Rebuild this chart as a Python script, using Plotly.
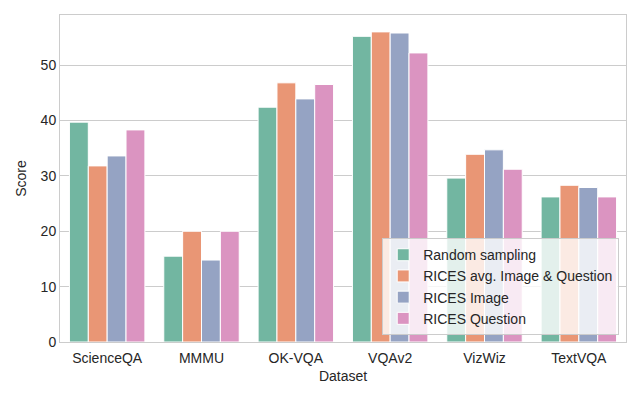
import plotly.graph_objects as go

datasets = ["ScienceQA", "MMMU", "OK-VQA", "VQAv2", "VizWiz", "TextVQA"]
methods = ["Random sampling", "RICES avg. Image & Question", "RICES Image", "RICES Question"]

random_sampling = [39.7, 15.5, 42.4, 55.2, 29.6, 26.2]
rices_avg = [31.8, 20.0, 46.8, 56.0, 33.9, 28.3]
rices_image = [33.6, 14.8, 43.9, 55.8, 34.7, 27.9]
rices_question = [38.3, 20.0, 46.5, 52.2, 31.2, 26.2]

y_ticks = [0, 10, 20, 30, 40, 50]

series = [random_sampling, rices_avg, rices_image, rices_question]
colors = ["#72b6a1", "#e99675", "#95a3c3", "#db94c1"]

fig = go.Figure()
for name, vals, col in zip(methods, series, colors):
    fig.add_trace(go.Bar(
        x=datasets,
        y=vals,
        name=name,
        marker=dict(color=col, line=dict(color="white", width=1)),
    ))

# page body has an 8px margin, so shift everything up/left by 8
fig.update_layout(
    width=640,
    height=400,
    margin=dict(l=52, r=22, t=7, b=66),
    barmode="group",
    bargap=0.2,
    bargroupgap=0,
    plot_bgcolor="white",
    paper_bgcolor="white",
    font=dict(family="Liberation Sans, Arial, sans-serif", size=14, color="#262626"),
    legend=dict(
        x=0.988, y=0.021, xanchor="right", yanchor="bottom",
        bgcolor="rgba(255,255,255,0.8)",
        bordercolor="#cccccc", borderwidth=1,
        font=dict(size=14),
        tracegroupgap=0,
    ),
    xaxis=dict(
        title=dict(text="Dataset", standoff=6, font=dict(size=14)),
        showline=True, linecolor="#cccccc", mirror=True,
        showgrid=False, ticks="", tickfont=dict(size=14),
        ticklabelstandoff=3,
    ),
    yaxis=dict(
        title=dict(text="Score", standoff=10, font=dict(size=14)),
        range=[0, 59.05],
        tickvals=y_ticks,
        showline=True, linecolor="#cccccc", mirror=True,
        showgrid=True, gridcolor="#cccccc", gridwidth=1,
        zeroline=False, ticks="", tickfont=dict(size=14),
    ),
)

fig.write_html("out.html")
